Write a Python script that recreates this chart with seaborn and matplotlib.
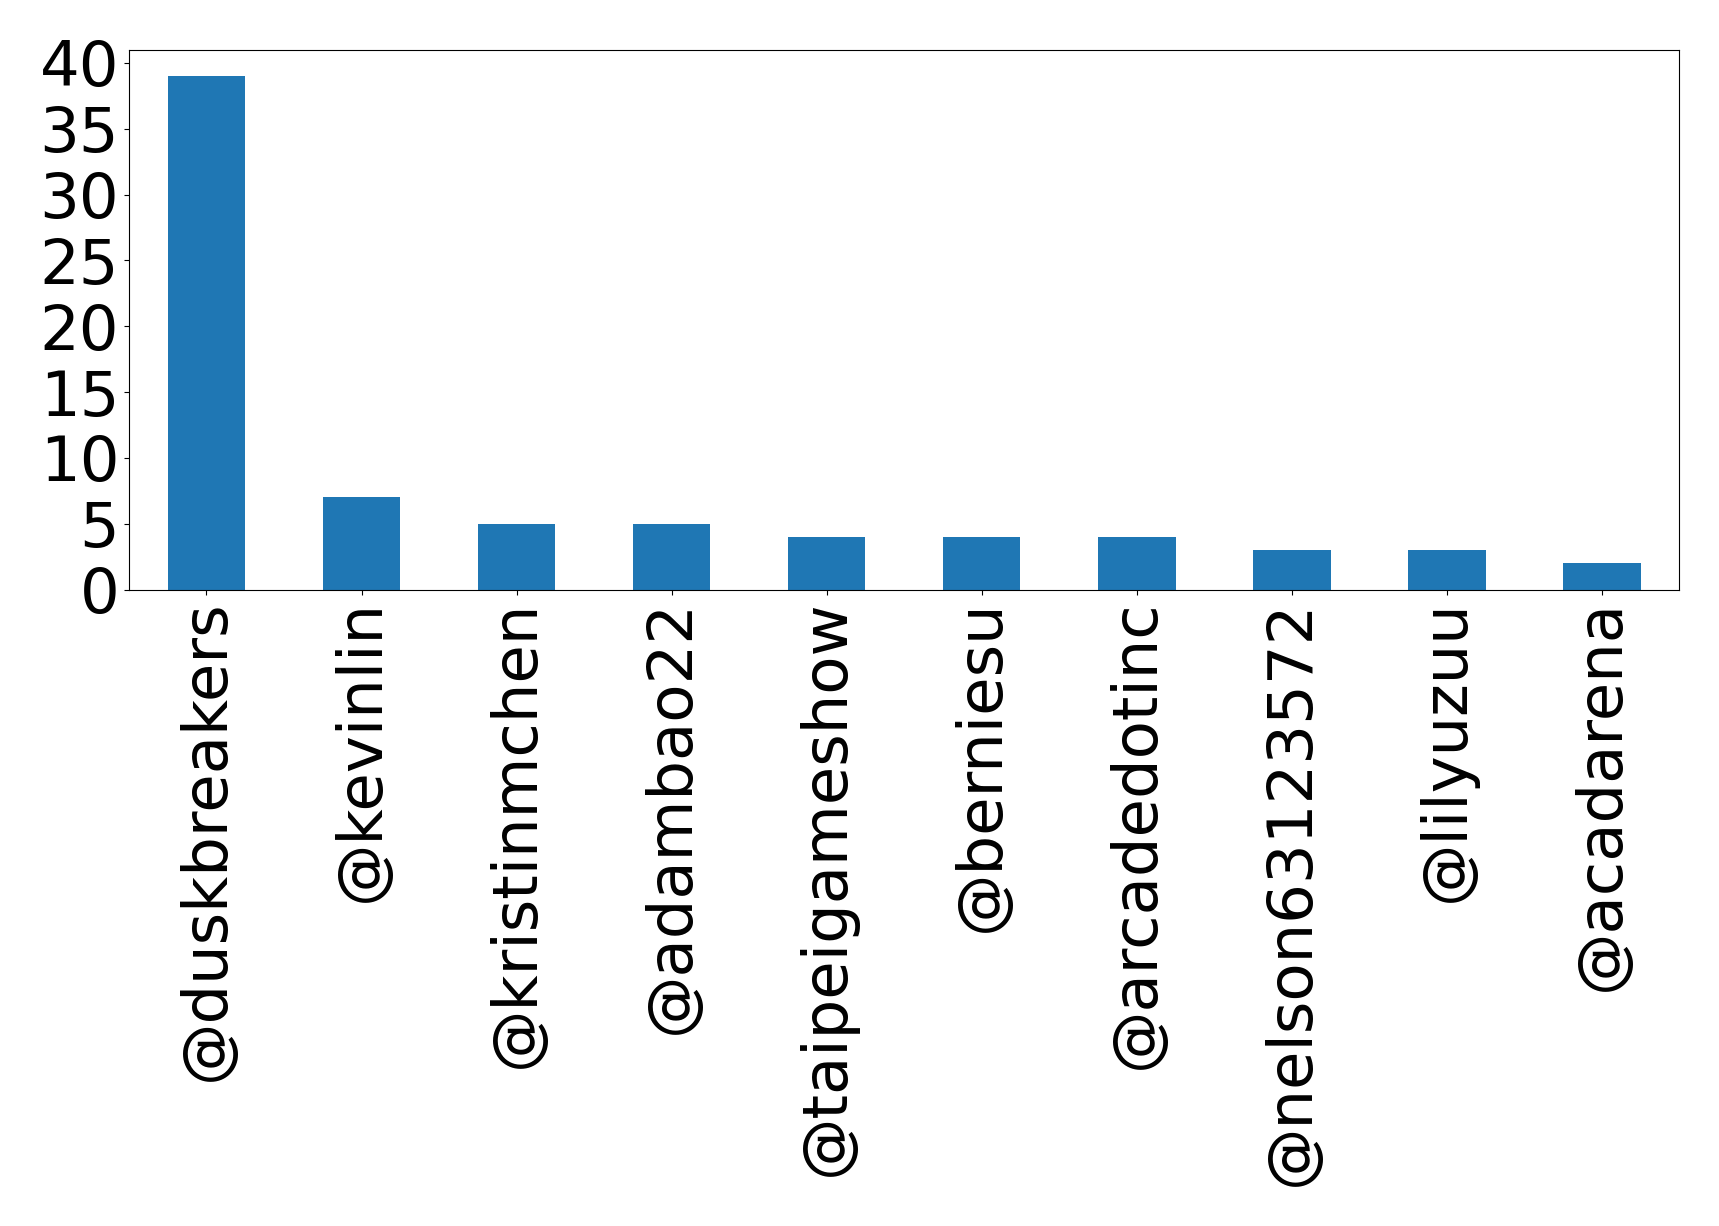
import matplotlib
matplotlib.use('Agg')
import matplotlib.pyplot as plt
import seaborn as sns
import pandas as pd

# Top accounts and their counts
accounts = ['@duskbreakers', '@kevinlin', '@kristinmchen', '@adambao22', '@taipeigameshow',
            '@berniesu', '@arcadedotinc', '@nelson63123572', '@lilyuzuu', '@acadarena']
counts = [39, 7, 5, 5, 4, 4, 4, 3, 3, 2]
yticks = [0, 5, 10, 15, 20, 25, 30, 35, 40]

df = pd.DataFrame({'account': accounts, 'count': counts})

fig, ax = plt.subplots(figsize=(17.19, 12.26), dpi=100)
sns.barplot(data=df, x='account', y='count', color='#1f77b4', saturation=1, width=0.5, ax=ax)

ax.set_xlim(-0.5, len(accounts) - 0.5)
ax.set_ylim(0, max(counts) * 1.05)
ax.set_yticks(yticks)
ax.set_xlabel('')
ax.set_ylabel('')
ax.tick_params(axis='both', labelsize=45)
plt.setp(ax.get_xticklabels(), rotation=90)

plt.subplots_adjust(left=0.075, right=0.977, top=0.959, bottom=0.519)
plt.savefig('out.png', dpi=100)
